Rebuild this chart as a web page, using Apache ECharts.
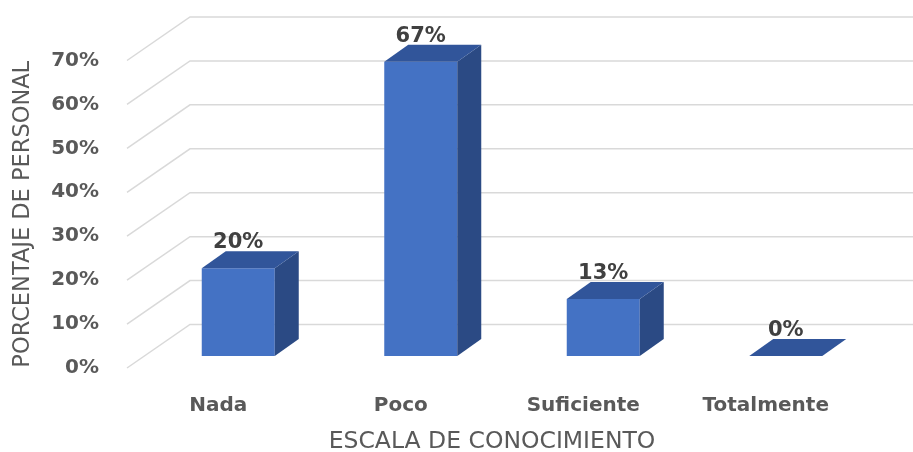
<!DOCTYPE html>
<html>
<head>
<meta charset="utf-8">
<script src="https://cdn.jsdelivr.net/npm/echarts@6/dist/echarts.min.js"></script>
<style>
html,body{margin:0;padding:0;background:#fff;}
#chart{width:913px;height:452px;}
</style>
</head>
<body>
<div id="chart"></div>
<script>
var categories = ['Nada', 'Poco', 'Suficiente', 'Totalmente'];
var values = [20, 67, 13, 0];
var yTicks = [0, 10, 20, 30, 40, 50, 60, 70];
var xTitle = 'ESCALA DE CONOCIMIENTO';
var yTitle = 'PORCENTAJE DE PERSONAL';

var DEPTH_X = 63, DEPTH_Y = -43.5;   // floor depth projection
var BAR_OFF_X = 20, BAR_OFF_Y = -12; // bar front face offset into depth
var BAR_DX = 24, BAR_DY = -17;       // bar depth
var BAR_W = 0.4;

var chart = echarts.init(document.getElementById('chart'), null, {renderer: 'canvas'});

var option = {
  animation: false,
  backgroundColor: '#ffffff',
  grid: {left: 127, right: 56, top: 60.5, bottom: 84, containLabel: false, outerBoundsMode: 'none'},
  xAxis: {
    type: 'category',
    data: categories,
    axisLine: {show: false},
    axisTick: {show: false},
    axisLabel: {color: '#595959', fontSize: 20, fontWeight: 'bold', fontFamily: 'DejaVu Sans', margin: 28},
    name: xTitle,
    nameLocation: 'middle',
    nameGap: 62,
    nameTextStyle: {color: '#595959', fontSize: 23.5, fontFamily: 'DejaVu Sans'}
  },
  yAxis: {
    type: 'value',
    min: 0, max: 70, interval: 10,
    axisLine: {show: false},
    axisTick: {show: false},
    splitLine: {show: false},
    axisLabel: {color: '#595959', fontSize: 20, fontWeight: 'bold', fontFamily: 'DejaVu Sans', margin: 28, padding: [6, 0, 0, 0], formatter: '{value}%'},
    name: yTitle,
    nameLocation: 'middle',
    nameRotate: 90,
    nameGap: 92,
    nameTextStyle: {color: '#595959', fontSize: 22.5, fontFamily: 'DejaVu Sans'}
  },
  series: [
    {
      type: 'custom',
      silent: true,
      z: 1,
      data: yTicks.map(function (t) { return [0, t]; }),
      renderItem: function (params, api) {
        var cs = params.coordSys;
        var p = api.coord([0, api.value(1)]);
        var y = p[1];
        var x0 = cs.x;
        return {
          type: 'polyline',
          shape: {points: [[x0, y], [x0 + DEPTH_X, y + DEPTH_Y], [api.getWidth(), y + DEPTH_Y]]},
          style: {stroke: '#d9d9d9', lineWidth: 1.5, fill: null}
        };
      }
    },
    {
      type: 'custom',
      z: 2,
      data: values.map(function (v, i) { return [i, v]; }),
      renderItem: function (params, api) {
        var i = api.value(0), v = api.value(1);
        var base = api.coord([i, 0]);
        var top = api.coord([i, v]);
        var bw = api.size([1, 0])[0] * BAR_W;
        var x0 = base[0] + BAR_OFF_X - bw / 2;
        var x1 = x0 + bw;
        var yb = base[1] + BAR_OFF_Y;
        var yt = top[1] + BAR_OFF_Y;
        var children = [];
        if (yb - yt > 0) {
          children.push({type: 'rect', shape: {x: x0, y: yt, width: bw, height: yb - yt}, style: {fill: '#4472C4'}});
          children.push({type: 'polygon', shape: {points: [[x1, yt], [x1 + BAR_DX, yt + BAR_DY], [x1 + BAR_DX, yb + BAR_DY], [x1, yb]]}, style: {fill: '#2B4A84'}});
        }
        children.push({type: 'polygon', shape: {points: [[x0, yt], [x1, yt], [x1 + BAR_DX, yt + BAR_DY], [x0 + BAR_DX, yt + BAR_DY]]}, style: {fill: '#31559A'}});
        children.push({
          type: 'text',
          style: {
            text: v + '%',
            x: x0 + bw / 2,
            y: yt + BAR_DY + 2,
            textAlign: 'center',
            textVerticalAlign: 'bottom',
            fill: '#404040',
            font: 'bold 21px "DejaVu Sans"'
          }
        });
        return {type: 'group', children: children};
      }
    }
  ]
};
chart.setOption(option);
</script>
</body>
</html>
